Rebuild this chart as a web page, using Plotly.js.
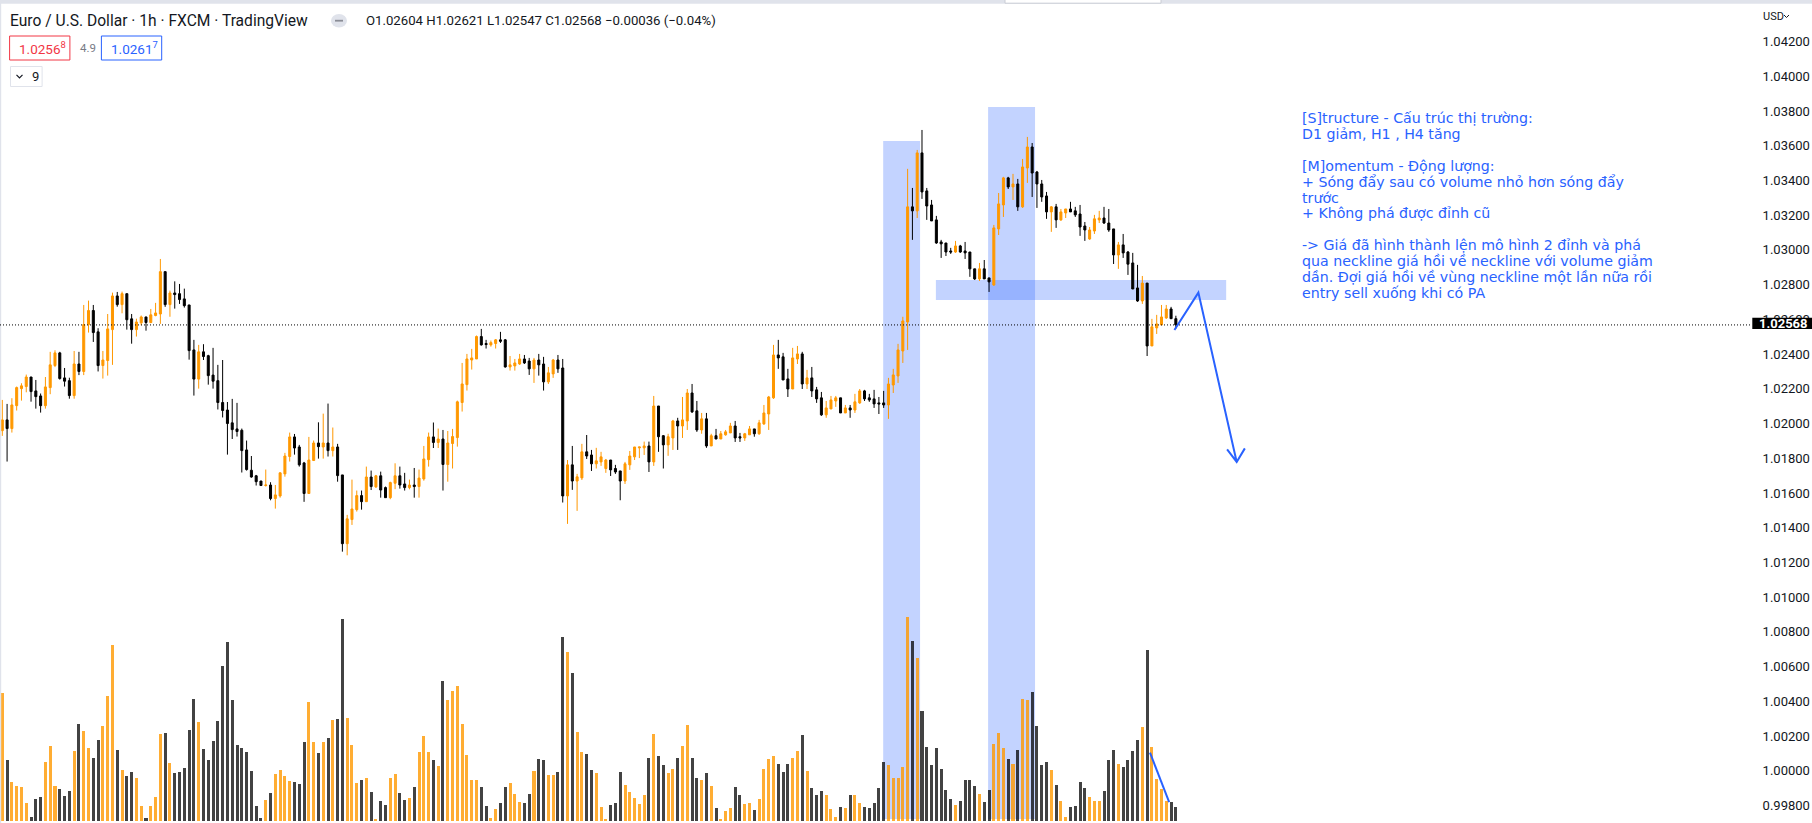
<!DOCTYPE html>
<html><head><meta charset="utf-8">
<script src="https://cdn.plot.ly/plotly-3.0.1.min.js"></script>
<style>html,body{margin:0;padding:0;background:#fff;overflow:hidden}#chart{width:1812px;height:823px}</style>
</head><body><div id="chart"></div>
<script>
// ---- data (EUR/USD 1h) ----
const opens = [
1.01959,1.02021,1.01971,1.02103,1.02201,1.02213,1.02268,1.02188,1.02159,1.02103,
1.02207,1.02334,1.02407,1.02263,1.02247,1.02161,1.02343,1.02300,1.02570,1.02651,
1.02528,1.02334,1.02363,1.02541,1.02735,1.02685,1.02748,1.02603,1.02541,1.02580,
1.02614,1.02582,1.02622,1.02631,1.02875,1.02685,1.02752,1.02748,1.02718,1.02683,
1.02424,1.02256,1.02413,1.02391,1.02279,1.02247,1.02121,1.02078,1.02004,1.01969,
1.01961,1.01848,1.01731,1.01699,1.01669,1.01643,1.01646,1.01568,1.01583,1.01710,
1.01810,1.01923,1.01865,1.01773,1.01597,1.01787,1.01888,1.01865,1.01888,1.01844,
1.01865,1.01704,1.01308,1.01447,1.01504,1.01585,1.01550,1.01692,1.01635,1.01699,
1.01631,1.01573,1.01656,1.01699,1.01652,1.01631,1.01646,1.01637,1.01681,1.01792,
1.01923,1.01891,1.01911,1.01764,1.01885,1.01919,1.02121,1.02224,1.02366,1.02372,
1.02501,1.02461,1.02453,1.02461,1.02482,1.02482,1.02326,1.02332,1.02343,1.02372,
1.02360,1.02315,1.02366,1.02343,1.02240,1.02286,1.02366,1.02320,1.01583,1.01762,
1.01669,1.01687,1.01837,1.01819,1.01768,1.01779,1.01741,1.01790,1.01741,1.01727,
1.01669,1.01762,1.01808,1.01860,1.01860,1.01871,1.01779,1.02101,1.01930,1.01877,
1.01917,1.02015,1.01986,1.02015,1.02176,1.02073,1.01963,1.02027,1.01871,1.01930,
1.01911,1.01935,1.01946,1.01986,1.01924,1.01917,1.01935,1.01969,1.01941,1.01998,
1.02055,1.02148,1.02395,1.02384,1.02257,1.02199,1.02372,1.02401,1.02228,1.02263,
1.02194,1.02148,1.02050,1.02084,1.02130,1.02148,1.02061,1.02090,1.02078,1.02119,
1.02188,1.02148,1.02142,1.02119,1.02119,1.02107,1.02222,1.02274,1.02418,1.02585,
1.03248,1.03225,1.03559,1.03340,1.03259,1.03173,1.03046,1.03040,1.02994,1.02988,
1.03023,1.02994,1.02988,1.02891,1.02833,1.02891,1.02839,1.02798,1.03121,1.03259,
1.03415,1.03363,1.03380,1.03248,1.03472,1.03593,1.03449,1.03380,1.03311,1.03219,
1.03248,1.03173,1.03213,1.03236,1.03225,1.03207,1.03138,1.03063,1.03109,1.03173,
1.03184,1.03155,1.03121,1.02971,1.03029,1.02988,1.02925,1.02781,1.02706,1.02809,
1.02447,1.02551,1.02568,1.02608,1.02660,1.02604];
const highs = [
1.02136,1.02113,1.02146,1.02213,1.02232,1.02282,1.02268,1.02251,1.02173,1.02268,
1.02413,1.02422,1.02413,1.02320,1.02264,1.02418,1.02413,1.02683,1.02708,1.02683,
1.02549,1.02418,1.02631,1.02754,1.02758,1.02760,1.02748,1.02631,1.02604,1.02622,
1.02614,1.02660,1.02695,1.02948,1.02875,1.02766,1.02819,1.02804,1.02777,1.02683,
1.02482,1.02453,1.02457,1.02396,1.02436,1.02338,1.02366,1.02124,1.02142,1.02119,
1.01971,1.01902,1.01813,1.01704,1.01669,1.01735,1.01662,1.01646,1.01719,1.01831,
1.01948,1.01940,1.01877,1.01779,1.01923,1.01902,1.02007,1.02057,1.02115,1.01977,
1.01883,1.01704,1.01474,1.01677,1.01614,1.01614,1.01752,1.01729,1.01704,1.01723,
1.01637,1.01665,1.01771,1.01752,1.01716,1.01677,1.01744,1.01735,1.01871,1.01948,
1.02006,1.01971,1.01963,1.01957,1.01969,1.02132,1.02349,1.02401,1.02430,1.02507,
1.02545,1.02482,1.02478,1.02487,1.02528,1.02487,1.02389,1.02372,1.02401,1.02395,
1.02378,1.02378,1.02401,1.02384,1.02326,1.02372,1.02395,1.02372,1.01790,1.01871,
1.01710,1.01883,1.01934,1.01848,1.01860,1.01837,1.01796,1.01790,1.01762,1.01727,
1.01779,1.01842,1.01865,1.01865,1.01896,1.01896,1.02159,1.02101,1.01934,1.01941,
1.02021,1.02033,1.02153,1.02199,1.02228,1.02130,1.02061,1.02061,1.01941,1.01969,
1.01957,1.01963,1.02004,1.02015,1.01946,1.01946,1.01986,1.01969,1.02021,1.02107,
1.02159,1.02453,1.02482,1.02407,1.02315,1.02436,1.02447,1.02413,1.02309,1.02326,
1.02211,1.02182,1.02130,1.02159,1.02159,1.02148,1.02107,1.02107,1.02171,1.02199,
1.02194,1.02171,1.02194,1.02153,1.02188,1.02263,1.02315,1.02459,1.02615,1.03467,
1.03357,1.03576,1.03691,1.03357,1.03288,1.03196,1.03058,1.03040,1.03012,1.03052,
1.03029,1.03046,1.02988,1.02891,1.02925,1.02942,1.02839,1.03144,1.03328,1.03421,
1.03421,1.03438,1.03409,1.03524,1.03651,1.03616,1.03455,1.03403,1.03334,1.03253,
1.03265,1.03236,1.03236,1.03277,1.03248,1.03259,1.03161,1.03132,1.03202,1.03225,
1.03248,1.03236,1.03121,1.03046,1.03092,1.02994,1.02983,1.02914,1.02850,1.02809,
1.02603,1.02626,1.02683,1.02683,1.02672,1.02621];
const lows = [
1.01929,1.01781,1.01948,1.02075,1.02132,1.02180,1.02126,1.02086,1.02063,1.02086,
1.02169,1.02325,1.02253,1.02213,1.02143,1.02143,1.02279,1.02279,1.02524,1.02470,
1.02300,1.02259,1.02276,1.02338,1.02673,1.02635,1.02541,1.02460,1.02501,1.02566,
1.02535,1.02578,1.02618,1.02574,1.02672,1.02615,1.02662,1.02689,1.02668,1.02368,
1.02161,1.02201,1.02366,1.02224,1.02201,1.02081,1.02035,1.01821,1.01911,1.01925,
1.01718,1.01729,1.01688,1.01643,1.01643,1.01637,1.01558,1.01510,1.01573,1.01694,
1.01781,1.01821,1.01752,1.01549,1.01597,1.01787,1.01798,1.01798,1.01810,1.01810,
1.01665,1.01262,1.01241,1.01416,1.01493,1.01504,1.01550,1.01617,1.01629,1.01573,
1.01573,1.01564,1.01622,1.01625,1.01614,1.01621,1.01573,1.01573,1.01671,1.01752,
1.01859,1.01859,1.01614,1.01665,1.01741,1.01867,1.02069,1.02190,1.02311,1.02372,
1.02449,1.02432,1.02443,1.02432,1.02464,1.02322,1.02305,1.02305,1.02338,1.02343,
1.02280,1.02234,1.02276,1.02190,1.02228,1.02263,1.02292,1.01545,1.01422,1.01618,
1.01497,1.01675,1.01796,1.01727,1.01741,1.01756,1.01716,1.01698,1.01710,1.01558,
1.01652,1.01733,1.01790,1.01801,1.01819,1.01721,1.01756,1.01837,1.01741,1.01814,
1.01848,1.01848,1.01917,1.01963,1.02061,1.01952,1.01941,1.01860,1.01871,1.01911,
1.01911,1.01930,1.01946,1.01894,1.01894,1.01900,1.01935,1.01924,1.01935,1.01992,
1.01963,1.02142,1.02315,1.02251,1.02153,1.02199,1.02343,1.02199,1.02199,1.02153,
1.02119,1.02044,1.02033,1.02084,1.02096,1.02061,1.02061,1.02033,1.02061,1.02113,
1.02130,1.02125,1.02090,1.02055,1.02090,1.02027,1.02176,1.02234,1.02349,1.02424,
1.03058,1.03184,1.03294,1.03173,1.03167,1.03035,1.02954,1.02965,1.02977,1.02983,
1.02983,1.02948,1.02845,1.02827,1.02821,1.02833,1.02758,1.02793,1.03086,1.03190,
1.03351,1.03288,1.03225,1.03242,1.03386,1.03305,1.03242,1.03277,1.03179,1.03104,
1.03127,1.03167,1.03184,1.03219,1.03190,1.03081,1.03052,1.03058,1.03092,1.03155,
1.03150,1.03104,1.02919,1.02891,1.02954,1.02856,1.02775,1.02701,1.02689,1.02389,
1.02447,1.02516,1.02568,1.02603,1.02603,1.02547];
const closes = [
1.02021,1.01971,1.02107,1.02207,1.02217,1.02268,1.02184,1.02155,1.02103,1.02211,
1.02338,1.02407,1.02259,1.02244,1.02161,1.02343,1.02300,1.02570,1.02651,1.02524,
1.02334,1.02366,1.02545,1.02735,1.02685,1.02748,1.02598,1.02541,1.02585,1.02614,
1.02582,1.02626,1.02637,1.02875,1.02685,1.02752,1.02743,1.02714,1.02679,1.02420,
1.02256,1.02413,1.02386,1.02276,1.02244,1.02121,1.02075,1.02000,1.01965,1.01954,
1.01844,1.01735,1.01692,1.01665,1.01643,1.01646,1.01568,1.01589,1.01716,1.01813,
1.01923,1.01859,1.01762,1.01597,1.01790,1.01888,1.01867,1.01888,1.01844,1.01865,
1.01700,1.01308,1.01451,1.01508,1.01585,1.01550,1.01692,1.01637,1.01699,1.01617,
1.01573,1.01660,1.01699,1.01646,1.01631,1.01646,1.01637,1.01686,1.01796,1.01923,
1.01891,1.01911,1.01764,1.01888,1.01925,1.02125,1.02228,1.02372,1.02378,1.02501,
1.02453,1.02455,1.02466,1.02482,1.02474,1.02326,1.02338,1.02349,1.02372,1.02349,
1.02315,1.02366,1.02338,1.02240,1.02292,1.02366,1.02315,1.01583,1.01762,1.01669,
1.01693,1.01837,1.01813,1.01768,1.01785,1.01808,1.01790,1.01733,1.01721,1.01669,
1.01768,1.01813,1.01865,1.01865,1.01871,1.01779,1.02101,1.01924,1.01877,1.01924,
1.02015,1.01986,1.02021,1.02176,1.02067,1.01963,1.02027,1.01871,1.01930,1.01911,
1.01941,1.01952,1.01986,1.01917,1.01917,1.01941,1.01969,1.01941,1.02004,1.02061,
1.02153,1.02395,1.02378,1.02251,1.02199,1.02378,1.02401,1.02228,1.02263,1.02188,
1.02142,1.02050,1.02090,1.02136,1.02148,1.02061,1.02090,1.02078,1.02125,1.02188,
1.02142,1.02136,1.02113,1.02113,1.02107,1.02228,1.02280,1.02424,1.02591,1.03248,
1.03225,1.03559,1.03334,1.03253,1.03167,1.03040,1.03035,1.02988,1.02988,1.03023,
1.02988,1.02983,1.02891,1.02833,1.02891,1.02833,1.02816,1.03127,1.03265,1.03415,
1.03363,1.03380,1.03248,1.03478,1.03593,1.03443,1.03380,1.03305,1.03219,1.03248,
1.03173,1.03219,1.03236,1.03219,1.03202,1.03132,1.03115,1.03115,1.03179,1.03184,
1.03155,1.03115,1.02971,1.03029,1.02983,1.02918,1.02775,1.02706,1.02809,1.02447,
1.02557,1.02574,1.02614,1.02660,1.02604,1.02568];
const volumes = [
383,182,116,104,101,53,11,65,71,176,
224,104,95,74,89,209,290,269,218,188,
242,284,374,527,212,152,134,146,128,44,
8,44,71,260,263,173,143,146,158,272,
365,296,215,182,239,299,464,536,362,227,
218,206,149,44,8,62,83,140,152,134,
119,116,110,236,356,236,203,236,248,302,
305,605,308,227,113,122,128,86,5,59,
47,128,140,83,62,68,101,206,254,206,
182,164,419,362,389,404,290,197,122,122,
101,44,8,35,53,101,113,80,56,53,
80,149,185,182,137,137,146,551,506,443,
266,206,200,152,143,41,5,47,53,146,
107,86,68,50,77,188,260,194,167,143,
155,188,224,287,188,128,122,143,104,38,
5,29,38,101,77,50,53,32,65,155,
185,194,170,146,170,188,209,257,149,98,
77,89,77,35,11,41,38,77,77,53,
41,38,53,98,176,167,128,128,161,611,
539,488,329,221,167,218,155,92,65,47,
59,122,122,104,80,56,92,230,263,218,
185,170,212,365,362,386,284,167,176,152,
107,59,11,41,44,116,98,71,59,59,
89,182,212,170,161,182,209,242,281,512,
221,125,95,59,56,41];
const priceTicks = [0.998,1.000,1.002,1.004,1.006,1.008,1.010,1.012,1.014,1.016,1.018,1.020,1.022,1.024,1.026,1.028,1.030,1.032,1.034,1.036,1.038,1.040,1.042];
const symbolTitle = 'Euro / U.S. Dollar · 1h · FXCM · TradingView';
const bidText = '1.0256<sup>8</sup>', spreadText = '4.9', askText = '1.0261<sup>7</sup>';
const noteLines = [
 '[S]tructure - Cấu trúc thị trường:',
 'D1 giảm, H1 , H4 tăng',
 '',
 '[M]omentum - Động lượng:',
 '+ Sóng đẩy sau có volume nhỏ hơn sóng đẩy',
 'trước',
 '+ Không phá được đỉnh cũ',
 '',
 '-> Giá đã hình thành lện mô hình 2 đỉnh và phá',
 'qua neckline giá hồi về neckline với volume giảm',
 'dần. Đợi giá hồi về vùng neckline một lần nữa rồi',
 'entry sell xuống khi có PA'];

// ---- drawings (bar index / price coordinates) ----
const zones = [
 {x0:183.9, x1:191.6, y0:0.99722, y1:1.03627},
 {x0:205.8, x1:215.6, y0:0.99722, y1:1.03823},
 {x0:194.9, x1:255.5, y0:1.02712, y1:1.02827}];

// ---- geometry / style ----
const W = 1812, H = 823, R = 61, PW = W - R;
const UP = '#FF9800', DOWN = '#000000';
const idx = opens.map((_, i) => i);
const last = opens.length - 1;
const px = x => x / PW, py = y => 1 - y / H;
const UI = 'Roboto, "Liberation Sans", sans-serif';
const TXT = '#131722';

const volColors = closes.map((c, i) => c >= opens[i] ? 'rgba(255,152,0,0.8)' : 'rgba(0,0,0,0.74)');

const traces = [
 {type:'bar', x: idx, y: volumes, xaxis:'x', yaxis:'y', width:0.63,
  marker:{color: volColors, line:{width:0}}, hoverinfo:'skip', showlegend:false},
 {type:'candlestick', x: idx, open: opens, high: highs, low: lows, close: closes,
  xaxis:'x', yaxis:'y2', whiskerwidth:0,
  increasing:{line:{color:UP, width:1}, fillcolor:UP},
  decreasing:{line:{color:DOWN, width:1}, fillcolor:DOWN},
  hoverinfo:'skip', showlegend:false}
];

const hidden = {showgrid:false, zeroline:false, showline:false, showticklabels:false, ticks:'', fixedrange:true};
const priceRange = [0.996991, 1.044396];

const shapes = zones.map(z => ({type:'rect', xref:'x', yref:'y2', x0:z.x0, x1:z.x1, y0:z.y0, y1:z.y1,
  fillcolor:'rgba(41,98,255,0.28)', line:{width:0}, layer:'below'}));
shapes.push(
 // frame strips
 {type:'rect', xref:'paper', yref:'paper', x0:px(0), x1:px(W), y0:py(3.7), y1:py(0), fillcolor:'#e0e3eb', line:{width:0}, layer:'above'},
 {type:'rect', xref:'paper', yref:'paper', x0:px(0), x1:px(1.2), y0:py(H), y1:py(0), fillcolor:'#e0e3eb', line:{width:0}, layer:'above'},
 // top floating toolbar edge
 {type:'rect', xref:'paper', yref:'paper', x0:px(1005), x1:px(1161), y0:py(3.2), y1:py(-3), fillcolor:'#fff', line:{color:'#c9ccd4', width:1}, layer:'above'},
 // last price dotted line
 {type:'line', xref:'paper', x0:0, x1:1, yref:'y2', y0:closes[last], y1:closes[last], line:{color:'#000', width:1, dash:'1px,2px'}, layer:'above'},
 // last price label box
 {type:'rect', xref:'paper', yref:'paper', x0:px(1752.3), x1:px(1812), y0:py(329), y1:py(317.7), fillcolor:'#000', line:{width:0}, layer:'above'},
 // legend boxes
 {type:'rect', xref:'paper', yref:'paper', x0:px(9.6), x1:px(69.9), y0:py(60), y1:py(36), fillcolor:'#fff', line:{color:'#F23645', width:1}, layer:'above'},
 {type:'rect', xref:'paper', yref:'paper', x0:px(101.4), x1:px(161.7), y0:py(60), y1:py(36), fillcolor:'#fff', line:{color:'#2962FF', width:1}, layer:'above'},
 {type:'rect', xref:'paper', yref:'paper', x0:px(10.5), x1:px(42.1), y0:py(86.5), y1:py(66.5), fillcolor:'#fff', line:{color:'#e0e3eb', width:1}, layer:'above'},
 {type:'path', xref:'paper', yref:'paper', path:`M ${px(16.5)} ${py(74.8)} L ${px(19.5)} ${py(77.8)} L ${px(22.5)} ${py(74.8)}`, line:{color:TXT, width:1.2}, layer:'above'},
 // hide button
 {type:'circle', xref:'paper', yref:'paper', x0:px(331), x1:px(347), y0:py(27.5), y1:py(14), fillcolor:'#e0e3eb', line:{width:0}, layer:'above'},
 {type:'rect', xref:'paper', yref:'paper', x0:px(335), x1:px(343), y0:py(21.6), y1:py(19.8), fillcolor:'#8a8d96', line:{width:0}, layer:'above'},
 // USD chevron
 {type:'path', xref:'paper', yref:'paper', path:`M ${px(1784)} ${py(15)} L ${px(1786.5)} ${py(17.5)} L ${px(1789)} ${py(15)}`, line:{color:TXT, width:1}, layer:'above'},
 // projection arrow
 {type:'path', xref:'x', yref:'y2', path:'M 244.7 1.02539 L 249.7 1.02754 L 257.7 1.01779 M 255.7 1.01851 L 257.7 1.01779 L 259.4 1.01857', line:{color:'#2962FF', width:2}, layer:'above'},
 // volume trend line
 {type:'line', xref:'x', yref:'y', x0:239.6, y0:204, x1:243.6, y1:56, line:{color:'#2962FF', width:2}, layer:'above'}
);

const ann = (x, y, text, font, extra) => Object.assign({xref:'paper', yref:'paper', x:px(x), y:py(y), text, showarrow:false,
  xanchor:'left', yanchor:'middle', font, borderpad:0}, extra || {});
const chg = closes[last] - opens[last];
const sign = v => (v < 0 ? '−' : '+');
const annotations = [
 ann(9.2, 20.8, symbolTitle, {family:UI, size:15.6, color:TXT}),
 ann(365, 20.8, `O${opens[last].toFixed(5)} H${highs[last].toFixed(5)} L${lows[last].toFixed(5)} C${closes[last].toFixed(5)} ${sign(chg)}${Math.abs(chg).toFixed(5)} (${sign(chg)}${(Math.abs(chg)/opens[last]*100).toFixed(2)}%)`, {family:UI, size:13.2, color:TXT}),
 ann(17.5, 48.5, bidText, {family:UI, size:13.5, color:'#F23645'}),
 ann(78.5, 48, spreadText, {family:UI, size:11.5, color:'#787b86'}),
 ann(110, 48.5, askText, {family:UI, size:13.5, color:'#2962FF'}),
 ann(30.5, 76.5, '9', {family:UI, size:13, color:TXT}),
 ann(1761.5, 16.3, 'USD', {family:UI, size:11, color:TXT}),
 ann(1757.7, 323.4, '<b>' + closes[last].toFixed(5) + '</b>', {family:UI, size:13, color:'#fff'}),
];
const noteY0 = 117.7, notePitch = 15.96;
noteLines.forEach((t, i) => { if (t) annotations.push(ann(1301, noteY0 + i * notePitch, t, {family:'"DejaVu Sans", Verdana, sans-serif', size:14.2, color:'#2962FF'})); });

const layout = {
 width: W, height: H, margin:{l:0, r:R, t:0, b:0, pad:0},
 paper_bgcolor:'#fff', plot_bgcolor:'#fff', showlegend:false, dragmode:false,
 boxgap:0.58, boxgroupgap:0, bargap:0,
 xaxis: Object.assign({range:[-0.48, 365.07], rangeslider:{visible:false}}, hidden),
 yaxis: Object.assign({range:[-6.9, 2462.1]}, hidden),
 yaxis2: {range:priceRange, overlaying:'y', side:'right', fixedrange:true,
   tickmode:'array', tickvals:priceTicks, ticktext:priceTicks.map(v => v.toFixed(5)),
   ticks:'outside', ticklen:0, tickcolor:'rgba(0,0,0,0)', ticklabelstandoff:8,
   tickfont:{family:UI, size:13, color:TXT}, showgrid:false, zeroline:false, showline:false},
 shapes, annotations
};
Plotly.newPlot('chart', traces, layout, {displayModeBar:false, staticPlot:true});
</script></body></html>
